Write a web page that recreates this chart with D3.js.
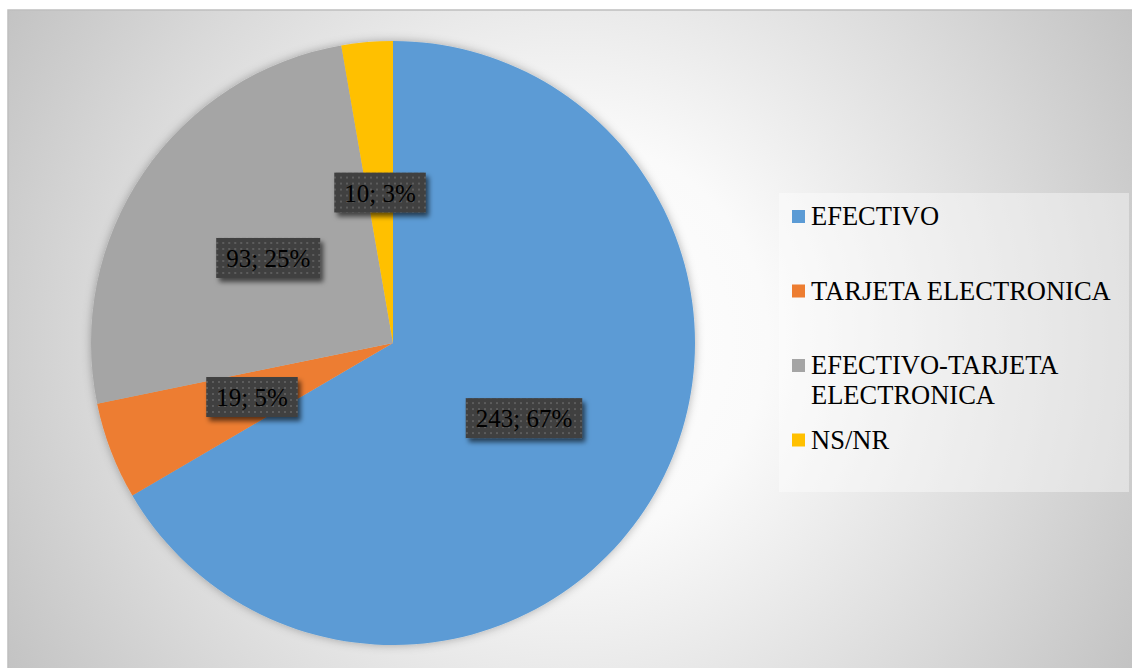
<!DOCTYPE html>
<html>
<head>
<meta charset="utf-8">
<script src="https://cdn.jsdelivr.net/npm/d3@7"></script>
<style>
  html, body { margin: 0; padding: 0; background: #ffffff; }
  svg { display: block; }
</style>
</head>
<body>
<div id="chart"></div>
<script>
// Forma de pago
const categories = ["EFECTIVO", "TARJETA ELECTRONICA", "EFECTIVO-TARJETA ELECTRONICA", "NS/NR"];
const legendLines = [["EFECTIVO"], ["TARJETA ELECTRONICA"], ["EFECTIVO-TARJETA", "ELECTRONICA"], ["NS/NR"]];
const values = [243, 19, 93, 10];
const colors = ["#5B9BD5", "#ED7D31", "#A5A5A5", "#FFC000"];

const FONT = '"Liberation Serif", "Times New Roman", Tinos, serif';
const W = 1132, H = 668;
const cx = 393, cy = 343, R = 302;

const svg = d3.select("#chart").append("svg")
  .attr("width", W).attr("height", H);

const defs = svg.append("defs");

// chart area background: radial gradient
const bg = defs.append("radialGradient")
  .attr("id", "bgGrad")
  .attr("gradientUnits", "userSpaceOnUse")
  .attr("cx", 570).attr("cy", 339).attr("r", 660);
bg.append("stop").attr("offset", 0).attr("stop-color", "#ffffff");
bg.append("stop").attr("offset", 0.3).attr("stop-color", "#fafafa");
bg.append("stop").attr("offset", 0.72).attr("stop-color", "#d9d9d9");
bg.append("stop").attr("offset", 1).attr("stop-color", "#c2c2c2");

// soft shadow around the pie
const pieShadow = defs.append("filter").attr("id", "pieShadow")
  .attr("x", "-10%").attr("y", "-10%").attr("width", "120%").attr("height", "120%");
pieShadow.append("feDropShadow")
  .attr("dx", 0).attr("dy", 0).attr("stdDeviation", 5)
  .attr("flood-color", "#000").attr("flood-opacity", 0.3);

// shadow for the value boxes
const boxShadow = defs.append("filter").attr("id", "boxShadow")
  .attr("x", "-20%").attr("y", "-30%").attr("width", "150%").attr("height", "180%");
boxShadow.append("feDropShadow")
  .attr("dx", 3).attr("dy", 4).attr("stdDeviation", 2.5)
  .attr("flood-color", "#000").attr("flood-opacity", 0.6);

// dotted fill of the value boxes
const dots = defs.append("pattern")
  .attr("id", "dots")
  .attr("patternUnits", "userSpaceOnUse")
  .attr("width", 6).attr("height", 6);
dots.append("rect").attr("width", 6).attr("height", 6).attr("fill", "#404040");
dots.append("rect").attr("x", 2).attr("y", 2).attr("width", 2).attr("height", 2).attr("fill", "#5c5c5c");

// chart area
svg.append("rect")
  .attr("x", 8).attr("y", 10)
  .attr("width", W + 20).attr("height", H + 20)
  .attr("fill", "url(#bgGrad)")
  .attr("stroke", "#bfbfbf").attr("stroke-width", 1.5);

// pie
const pie = d3.pie().sort(null).value(d => d)(values);
const arc = d3.arc().innerRadius(0).outerRadius(R);
const total = d3.sum(values);

const g = svg.append("g").attr("transform", `translate(${cx},${cy})`);
g.append("g").attr("filter", "url(#pieShadow)")
  .selectAll("path")
  .data(pie)
  .join("path")
  .attr("d", arc)
  .attr("fill", (d, i) => colors[i]);

// value labels
const labels = g.append("g").selectAll("g")
  .data(pie)
  .join("g")
  .attr("transform", d => {
    const [x, y] = arc.centroid(d);
    return `translate(${x},${y})`;
  });

labels.each(function(d) {
  const sel = d3.select(this);
  const txt = `${d.data}; ${Math.round(d.data / total * 100)}%`;
  const t = sel.append("text")
    .attr("text-anchor", "middle")
    .attr("y", 9)
    .style("font-family", FONT)
    .style("font-size", "25px")
    .attr("fill", "#000")
    .text(txt);
  const w = t.node().getComputedTextLength() + 20;
  sel.insert("rect", "text")
    .attr("x", -w / 2).attr("y", -20)
    .attr("width", w).attr("height", 40)
    .attr("fill", "url(#dots)")
    .attr("filter", "url(#boxShadow)");
});

// legend
const legend = svg.append("g");
legend.append("rect")
  .attr("x", 779).attr("y", 193)
  .attr("width", 350).attr("height", 299)
  .attr("fill", "#ffffff").attr("fill-opacity", 0.4);

const firstBaseline = 225, step = 74.5, lineH = 30;
const items = legend.selectAll("g.item")
  .data(categories)
  .join("g")
  .attr("class", "item")
  .attr("transform", (d, i) => `translate(0,${firstBaseline + i * step})`);

items.append("rect")
  .attr("x", 792).attr("y", -15)
  .attr("width", 13).attr("height", 13)
  .attr("fill", (d, i) => colors[i]);

items.append("text")
  .style("font-family", FONT)
  .style("font-size", "26.5px")
  .attr("fill", "#000")
  .selectAll("tspan")
  .data((d, i) => legendLines[i])
  .join("tspan")
  .attr("x", 811)
  .attr("y", (d, j) => j * lineH)
  .text(d => d);
</script>
</body>
</html>
